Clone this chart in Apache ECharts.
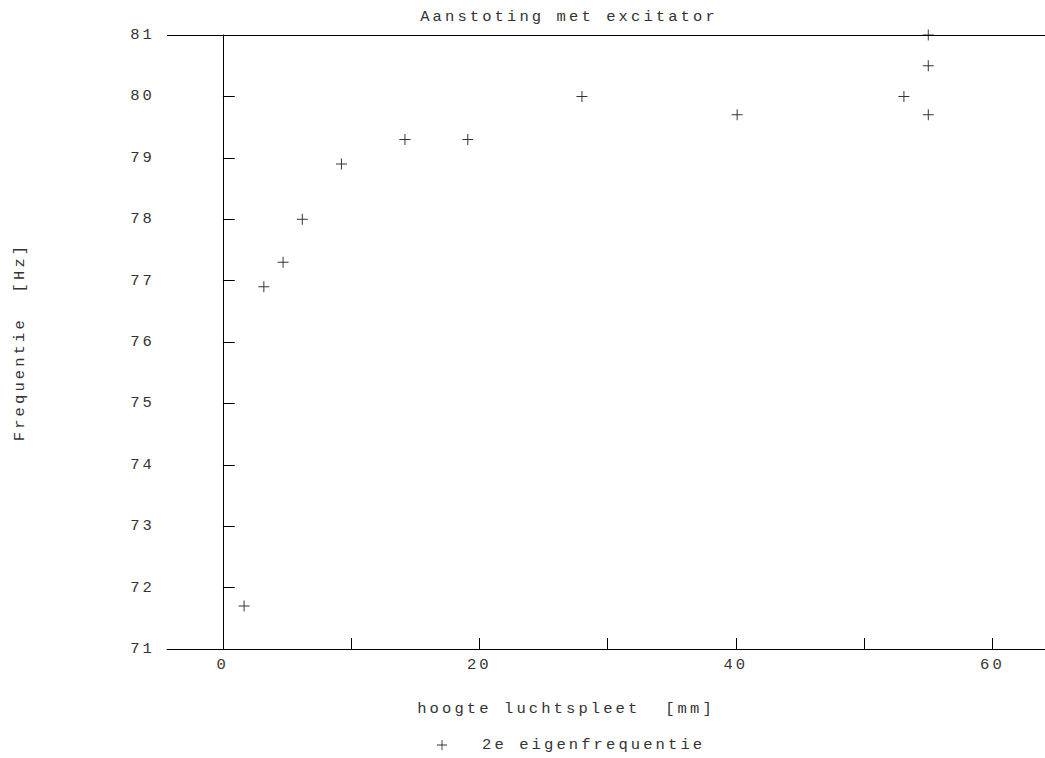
<!DOCTYPE html>
<html>
<head>
<meta charset="utf-8">
<script src="https://cdn.jsdelivr.net/npm/echarts@6/dist/echarts.min.js"></script>
<style>
html,body{margin:0;padding:0;background:#fff;}
#chart{width:1045px;height:758px;}
#chart svg text{letter-spacing:3.1px;}
</style>
</head>
<body>
<div id="chart"></div>
<script>
var titleText = 'Aanstoting met excitator';
var xName = 'hoogte luchtspleet  [mm]';
var yName = 'Frequentie  [Hz]';
var seriesName = '2e eigenfrequentie';
var xValues = [1.66, 3.2, 4.7, 6.2, 9.25, 14.2, 19.1, 28.0, 40.1, 53.1, 55.0, 55.0, 55.0];
var yValues = [71.7, 76.9, 77.3, 78.0, 78.9, 79.3, 79.3, 80.0, 79.7, 80.0, 81.0, 80.5, 79.7];
var xLabelTicks = [0, 20, 40, 60];
var xMinorTicks = [10, 20, 30, 40, 50, 60];

var plus = 'path://M0,4.55H10V5.45H0Z M4.55,0H5.45V10H4.55Z';
var font = 'Liberation Mono';
var txtColor = '#333';
var fs = 15.5;

var chart = echarts.init(document.getElementById('chart'), null, {renderer: 'svg'});
chart.setOption({
  animation: false,
  backgroundColor: '#fff',
  title: {
    text: titleText,
    left: 564,
    textAlign: 'center',
    top: 4,
    textStyle: {fontFamily: font, fontSize: fs, fontWeight: 'normal', color: txtColor}
  },
  legend: {
    left: 432,
    top: 732,
    itemWidth: 10,
    itemHeight: 10,
    icon: plus,
    data: [seriesName],
    textStyle: {fontFamily: font, fontSize: fs, color: txtColor, padding: [0, 0, 0, 30]}
  },
  grid: {left: 167, right: 0, top: 35, bottom: 109, containLabel: false},
  xAxis: {
    type: 'value',
    min: -4.35,
    max: 64.1,
    name: xName,
    nameLocation: 'middle',
    nameGap: 52,
    nameTextStyle: {fontFamily: font, fontSize: fs, color: txtColor, padding: [0, 80, 0, 0]},
    axisLine: {show: true, onZero: false, lineStyle: {color: '#000', width: 1}},
    axisTick: {show: true, inside: true, length: 11, customValues: xMinorTicks, lineStyle: {color: '#000'}},
    axisLabel: {customValues: xLabelTicks, fontFamily: font, fontSize: fs, color: txtColor, margin: 8},
    splitLine: {show: false}
  },
  yAxis: {
    type: 'value',
    min: 71,
    max: 81,
    interval: 1,
    name: yName,
    nameLocation: 'middle',
    nameRotate: 90,
    nameGap: 139,
    nameTextStyle: {fontFamily: font, fontSize: fs, color: txtColor},
    axisLine: {show: true, lineStyle: {color: '#000', width: 1}},
    axisTick: {show: true, inside: true, length: 12, lineStyle: {color: '#000'}},
    axisLabel: {fontFamily: font, fontSize: fs, color: txtColor, margin: 12},
    splitLine: {show: false}
  },
  series: [{
    name: seriesName,
    type: 'scatter',
    symbol: plus,
    symbolSize: 11,
    itemStyle: {color: '#000'},
    data: xValues.map(function (x, i) { return [x, yValues[i]]; }),
    markLine: {
      silent: true,
      symbol: ['none', 'none'],
      label: {show: false},
      lineStyle: {color: '#000', type: 'solid', width: 1},
      data: [{xAxis: 0}, {yAxis: 81}]
    }
  }]
});
</script>
</body>
</html>
